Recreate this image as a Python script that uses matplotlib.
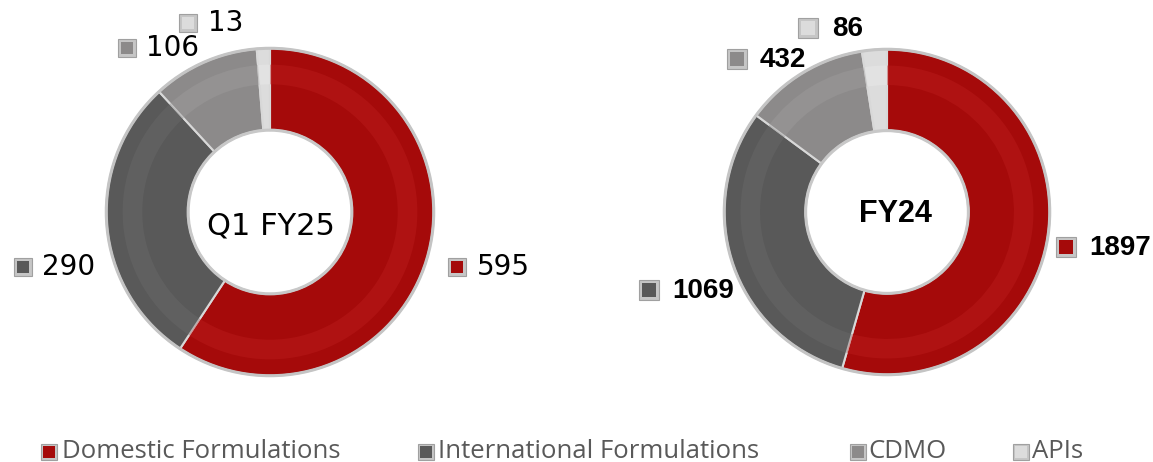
import matplotlib
matplotlib.use("Agg")
import matplotlib.pyplot as plt
from matplotlib.patches import Rectangle, Circle

categories = ["Domestic Formulations", "International Formulations", "CDMO", "APIs"]
q1_fy25 = [595, 290, 106, 13]
fy24 = [1897, 1069, 432, 86]
chart_titles = ["Q1 FY25", "FY24"]

colors = ["#A50A0A", "#595959", "#8C8A8A", "#DCDCDC"]
light = ["#C22222", "#6E6E6E", "#A3A1A1", "#F0F0F0"]

W, H = 1153, 462
fig = plt.figure(figsize=(W / 100, H / 100), dpi=100)


def donut(cx, cy, r, values):
    ax = fig.add_axes([(cx - r) / W, (H - cy - r) / H, 2 * r / W, 2 * r / H])
    ax.set_zorder(1)
    ax.pie(values, colors=colors, startangle=90, counterclock=False, radius=1.0,
           wedgeprops=dict(width=0.5, edgecolor="#D8D8D8", linewidth=1.5))
    # soft highlight band in the middle of the ring
    ax.pie(values, colors=light, startangle=90, counterclock=False, radius=0.9,
           wedgeprops=dict(width=0.12, edgecolor="none", linewidth=0, alpha=0.35))
    ax.add_patch(Circle((0, 0), 1.0, fill=False, edgecolor="#C4C4C4", linewidth=2.2))
    ax.add_patch(Circle((0, 0), 0.5, fill=False, edgecolor="#C8C8C8", linewidth=2.2))
    ax.set_xlim(-1.02, 1.02)
    ax.set_ylim(-1.02, 1.02)
    ax.set_aspect("auto")
    ax.axis("off")
    return ax


donut(270, 212, 167, q1_fy25)
donut(887, 212, 166, fy24)

ov = fig.add_axes([0, 0, 1, 1])
ov.set_zorder(2)
ov.patch.set_alpha(0)
ov.set_xlim(0, W)
ov.set_ylim(H, 0)
ov.axis("off")


def marker(x, y, color, size=18, inner=0.7):
    ov.add_patch(Rectangle((x - size / 2, y - size / 2), size, size,
                           facecolor="#C6C6C6", edgecolor="#A0A0A0", linewidth=0.8))
    s2 = size * inner
    ov.add_patch(Rectangle((x - s2 / 2, y - s2 / 2), s2, s2,
                           facecolor=color, edgecolor="none"))


# center titles
ov.text(271, 226, chart_titles[0], ha="center", va="center", fontsize=22,
        family="DejaVu Sans", color="black")
ov.text(895, 214, chart_titles[1], ha="center", va="center", fontsize=22,
        family="Liberation Sans", fontweight="bold", color="black")

# Q1 FY25 data labels (marker x, marker y, text x)
q1_pos = [(457, 267, 477), (23, 267, 42), (127, 48, 146), (188, 23, 208)]
for (mx, my, tx), v, c in zip(q1_pos, q1_fy25, colors):
    marker(mx, my, c)
    ov.text(tx, my, str(v), ha="left", va="center", fontsize=20,
            family="DejaVu Sans", color="black")

# FY24 data labels
fy_pos = [(1066, 247, 1089), (649, 290, 672), (737, 59, 760), (808, 28, 832)]
for (mx, my, tx), v, c in zip(fy_pos, fy24, colors):
    marker(mx, my, c, size=20)
    ov.text(tx, my + 1, str(v), ha="left", va="center", fontsize=20,
            family="Liberation Sans", fontweight="bold", color="black")

# legend
leg_pos = [(49, 62), (426, 438), (858, 868), (1021, 1032)]
for (mx, tx), name, c in zip(leg_pos, categories, colors):
    marker(mx, 452, c, size=16, inner=0.75)
    ov.text(tx, 451, name, ha="left", va="center", fontsize=18.5,
            family="Open Sans", color="#595959")

fig.savefig("out.png", dpi=100)
